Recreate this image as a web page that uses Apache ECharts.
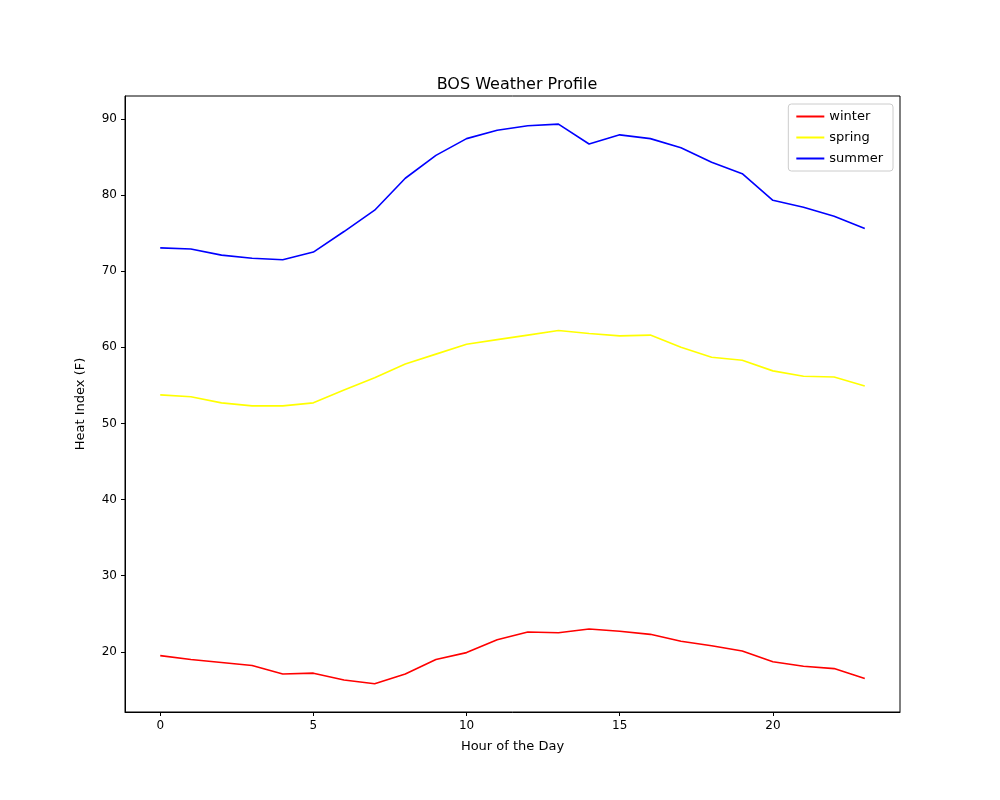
<!DOCTYPE html>
<html><head><meta charset="utf-8">
<script src="https://cdn.jsdelivr.net/npm/echarts@6/dist/echarts.min.js"></script>
<style>body{margin:0}#c{width:1000px;height:800px}</style></head>
<body><div id="c"></div>
<script>
var hours = [];
for (var h = 0; h < 24; h++) hours.push(h);
var winter = [19.5,19.0,18.6,18.2,17.1,17.2,16.3,15.8,17.1,19.0,19.9,21.6,22.6,22.5,23.0,22.7,22.3,21.4,20.8,20.1,18.7,18.1,17.8,16.5];
var spring = [53.75,53.5,52.7,52.3,52.3,52.7,54.4,56.0,57.8,59.1,60.4,61.0,61.6,62.2,61.8,61.5,61.6,60.0,58.7,58.3,56.9,56.2,56.1,54.9];
var summer = [73.05,72.9,72.1,71.7,71.5,72.5,75.2,78.0,82.2,85.2,87.4,88.5,89.1,89.3,86.7,87.9,87.4,86.2,84.3,82.8,79.3,78.4,77.2,75.6];
var xTicks = [0,5,10,15,20];
var yTicks = [20,30,40,50,60,70,80,90];

function pairs(v){ return v.map(function(y,i){ return [hours[i], y]; }); }
function line(name, color, data){
  return {name:name, type:'line', data:pairs(data), showSymbol:false,
    lineStyle:{color:color, width:1.6}, itemStyle:{color:color}};
}
var font = 'DejaVu Sans';
var chart = echarts.init(document.getElementById('c'));
chart.setOption({
  animation:false,
  textStyle:{fontFamily:font},
  title:{text:'BOS Weather Profile', left:512, top:72, textAlign:'center',
    textStyle:{fontSize:16, fontWeight:'normal', color:'#000', fontFamily:font}},
  legend:{right:107, top:104, orient:'vertical', itemWidth:28, itemHeight:2, itemGap:8,
    borderColor:'#ccc', borderWidth:1, borderRadius:3, padding:[6,10,6,8],
    icon:'rect', textStyle:{fontSize:13, color:'#000'},
    data:['winter','spring','summer']},
  grid:{left:125, right:100, top:96, bottom:88},
  xAxis:{type:'value', min:-1.15, max:24.15,
    name:'Hour of the Day', nameLocation:'middle', nameGap:28,
    nameTextStyle:{fontSize:13, color:'#000'},
    axisLine:{onZero:false, lineStyle:{color:'#000'}},
    axisTick:{customValues:xTicks, length:4, lineStyle:{color:'#000'}},
    axisLabel:{customValues:xTicks, color:'#000', fontSize:12, margin:8},
    splitLine:{show:false}},
  yAxis:{type:'value', min:12.1, max:93.0,
    name:'Heat Index (F)', nameLocation:'middle', nameGap:38,
    nameTextStyle:{fontSize:13, color:'#000'},
    axisLine:{show:true, onZero:false, lineStyle:{color:'#000'}},
    axisTick:{show:true, customValues:yTicks, length:4, lineStyle:{color:'#000'}},
    axisLabel:{customValues:yTicks, color:'#000', fontSize:12, margin:8},
    splitLine:{show:false}},
  series:[
    line('winter','#ff0000',winter),
    line('spring','#ffff00',spring),
    line('summer','#0000ff',summer)
  ],
  graphic:[{type:'rect', shape:{x:125,y:96,width:775,height:616},
    style:{fill:null, stroke:'#000', lineWidth:1}, silent:true}]
});
</script></body></html>
